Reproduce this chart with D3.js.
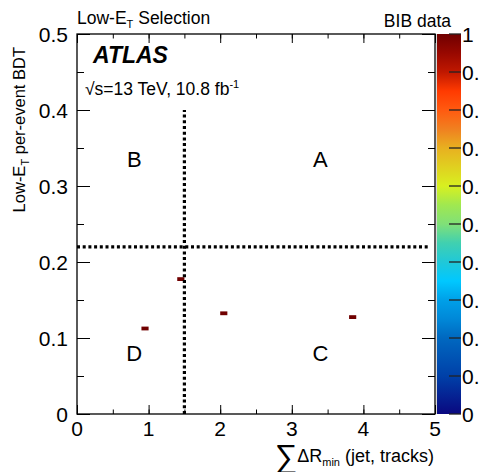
<!DOCTYPE html>
<html>
<head>
<meta charset="utf-8">
<script src="https://cdn.jsdelivr.net/npm/d3@7"></script>
<style>
  body { margin: 0; background: #fff; }
  text { font-family: "Liberation Sans", Arial, Helvetica, sans-serif; fill: #000; }
</style>
</head>
<body>
<div class="chart"></div>
<script>
// histogram bins (low edges) that are filled, and their content
var binXLow = [1.4, 2.0, 3.8, 0.9];
var binYLow = [0.175, 0.13, 0.125, 0.11];
var binValue = [1, 1, 1, 1];
var binWidthX = 0.1;
var binWidthY = 0.005;

var xTicks = [0, 1, 2, 3, 4, 5];
var yTicks = [0, 0.1, 0.2, 0.3, 0.4, 0.5];
var zTicks = [0, 0.1, 0.2, 0.3, 0.4, 0.5, 0.6, 0.7, 0.8, 0.9, 1];

// palette stops of the colour bar
var paletteStops = [0, 0.1, 0.2, 0.25, 0.3, 0.35, 0.4, 0.45, 0.5, 0.55, 0.6, 0.65, 0.7, 0.75, 0.8, 0.85, 0.9, 0.95, 1];
var paletteColors = ["#0a0880", "#0040a8", "#0068c0", "#0088d8", "#00a0e8", "#00c8ff", "#20c8d8", "#40d0b0",
  "#80e078", "#a0e850", "#d8f020", "#e0d020", "#e8b020", "#f08020", "#ff5a10", "#ff3a00", "#c01800", "#980800", "#700000"];

// cut lines defining regions A-D
var cutX = 1.5, cutXTop = 0.4;
var cutY = 0.22;
var regionLabels = ["A", "B", "C", "D"];
var regionX = [3.4, 0.8, 3.4, 0.8];
var regionY = [0.325, 0.325, 0.07, 0.07];

var svgWidth = 479, svgHeight = 472;
var margin = { top: 34, right: 44, bottom: 58, left: 77 };
var width = svgWidth - margin.left - margin.right;
var height = svgHeight - margin.top - margin.bottom;

var svg = d3.select(".chart").append("svg")
  .attr("width", svgWidth)
  .attr("height", svgHeight);

var g = svg.append("g").attr("transform", `translate(${margin.left}, ${margin.top})`);

var x = d3.scaleLinear().domain([0, 5]).range([0, width]);
var y = d3.scaleLinear().domain([0, 0.5]).range([height, 0]);
var z = d3.scaleLinear().domain([0, 1]).range([height, 0]);
var color = d3.scaleLinear().domain(paletteStops).range(paletteColors);

// bins
g.selectAll("rect.bin")
  .data(binXLow.map((d, i) => ({ x: d, y: binYLow[i], v: binValue[i] })))
  .enter().append("rect")
  .attr("class", "bin")
  .attr("x", d => x(d.x))
  .attr("y", d => y(d.y + binWidthY))
  .attr("width", d => x(d.x + binWidthX) - x(d.x))
  .attr("height", d => y(d.y) - y(d.y + binWidthY))
  .attr("fill", d => color(d.v));

// cut lines
g.append("line")
  .attr("x1", x(cutX)).attr("x2", x(cutX))
  .attr("y1", y(0)).attr("y2", y(cutXTop))
  .attr("stroke", "#000").attr("stroke-width", 3.2).attr("stroke-dasharray", "3 2.7");
g.append("line")
  .attr("x1", x(0)).attr("x2", x(5) - 6)
  .attr("y1", y(cutY)).attr("y2", y(cutY))
  .attr("stroke", "#000").attr("stroke-width", 3.2).attr("stroke-dasharray", "3 2.7");

// region labels
g.selectAll("text.region")
  .data(regionLabels)
  .enter().append("text")
  .attr("class", "region")
  .attr("x", (d, i) => x(regionX[i]))
  .attr("y", (d, i) => y(regionY[i]))
  .attr("text-anchor", "middle")
  .style("font-size", "22px")
  .text(d => d);

// axes, with minor ticks
function tickLines(axis) {
  return function(sel) {
    sel.call(axis);
    sel.select(".domain").remove();
    sel.selectAll("line").attr("stroke", "#000");
  };
}
var xMinor = d3.range(0, 5.01, 0.5);
var yMinor = d3.range(0, 0.501, 0.05);

g.append("g").attr("transform", `translate(0, ${height})`)
  .call(tickLines(d3.axisTop(x).tickValues(xMinor).tickSize(4.5).tickFormat("")));
g.append("g").attr("transform", `translate(0, ${height})`)
  .call(tickLines(d3.axisTop(x).tickValues(xTicks).tickSize(9).tickFormat("")));
g.append("g")
  .call(tickLines(d3.axisBottom(x).tickValues(xMinor).tickSize(4.5).tickFormat("")));
g.append("g")
  .call(tickLines(d3.axisBottom(x).tickValues(xTicks).tickSize(9).tickFormat("")));
g.append("g")
  .call(tickLines(d3.axisRight(y).tickValues(yMinor).tickSize(7).tickFormat("")));
g.append("g")
  .call(tickLines(d3.axisRight(y).tickValues(yTicks).tickSize(13).tickFormat("")));
g.append("g").attr("transform", `translate(${width}, 0)`)
  .call(tickLines(d3.axisLeft(y).tickValues(yMinor).tickSize(7).tickFormat("")));
g.append("g").attr("transform", `translate(${width}, 0)`)
  .call(tickLines(d3.axisLeft(y).tickValues(yTicks).tickSize(13).tickFormat("")));

// tick labels
g.selectAll("text.xtick").data(xTicks).enter().append("text")
  .attr("x", d => x(d)).attr("y", height + 22)
  .attr("text-anchor", "middle").style("font-size", "21px")
  .text(d => d);
g.selectAll("text.ytick").data(yTicks).enter().append("text")
  .attr("x", -9).attr("y", d => y(d) + 8)
  .attr("text-anchor", "end").style("font-size", "21px")
  .text(d => d === 0 ? "0" : d.toFixed(1));

// frame
g.append("rect").attr("width", width).attr("height", height)
  .attr("fill", "none").attr("stroke", "#000").attr("stroke-width", 1.3);

// colour bar
var defs = svg.append("defs");
var grad = defs.append("linearGradient").attr("id", "pal")
  .attr("x1", 0).attr("y1", 1).attr("x2", 0).attr("y2", 0);
grad.selectAll("stop").data(paletteStops).enter().append("stop")
  .attr("offset", d => d)
  .attr("stop-color", d => color(d));

var cb = svg.append("g").attr("transform", `translate(${margin.left + width}, ${margin.top})`);
cb.append("rect").attr("x", 1).attr("width", 2).attr("height", height).attr("fill", "#d8d8d8");
cb.append("rect").attr("x", 2).attr("width", 24).attr("height", height).attr("fill", "url(#pal)");
cb.selectAll("line.ztick").data(zTicks).enter().append("line")
  .attr("x1", 14).attr("x2", 26)
  .attr("y1", d => z(d)).attr("y2", d => z(d))
  .attr("stroke", "#222").attr("stroke-width", 1.3);
cb.selectAll("text.ztick").data(zTicks).enter().append("text")
  .attr("x", 27).attr("y", d => z(d) + 8)
  .style("font-size", "21px")
  .text(d => d === 0 ? "0" : d === 1 ? "1" : d.toFixed(1));

// header texts
var header = svg.append("text").attr("x", 77).attr("y", 24).style("font-size", "17.5px");
header.append("tspan").text("Low-E");
header.append("tspan").attr("dy", 4).style("font-size", "11px").text("T");
header.append("tspan").attr("dy", -4).text(" Selection");

svg.append("text").attr("x", 451).attr("y", 27).attr("text-anchor", "end")
  .style("font-size", "17.5px").text("BIB data");

svg.append("text").attr("x", 93).attr("y", 63)
  .style("font-size", "23px").style("font-weight", "bold").style("font-style", "italic")
  .text("ATLAS");

var lumi = svg.append("text").attr("x", 85).attr("y", 95).style("font-size", "17.5px");
lumi.append("tspan").text("\u221As=13 TeV, 10.8 fb");
lumi.append("tspan").attr("dy", -7).style("font-size", "11px").text("-1");

// axis titles
var yt = svg.append("text")
  .attr("transform", "translate(25, 47) rotate(-90)")
  .attr("text-anchor", "end").style("font-size", "16.5px");
yt.append("tspan").text("Low-E");
yt.append("tspan").attr("dy", 4).style("font-size", "11px").text("T");
yt.append("tspan").attr("dy", -4).text(" per-event BDT");

var xt = svg.append("text").attr("x", 434).attr("y", 462)
  .attr("text-anchor", "end").style("font-size", "18px");
xt.append("tspan").style("font-size", "32px").attr("dy", 5).text("\u2211");
xt.append("tspan").attr("dy", -5).text("\u0394R");
xt.append("tspan").attr("dy", 4).style("font-size", "11px").text("min");
xt.append("tspan").attr("dy", -4).text(" (jet, tracks)");
</script>
</body>
</html>
